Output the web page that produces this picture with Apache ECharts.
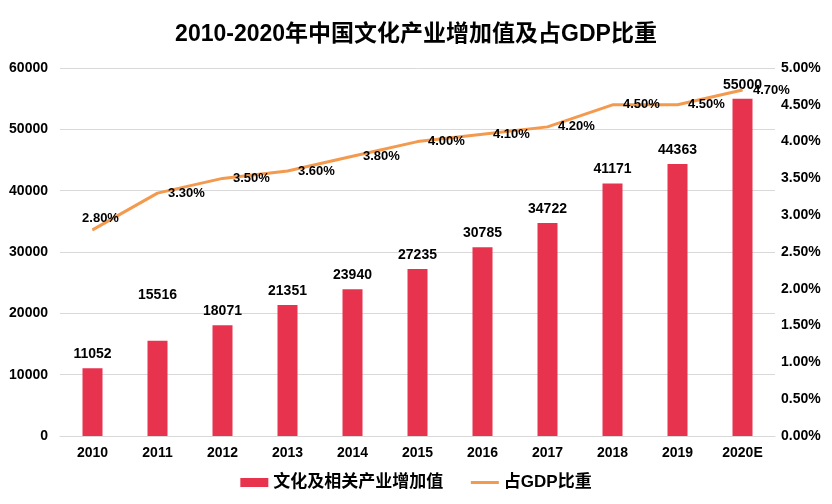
<!DOCTYPE html>
<html><head><meta charset="utf-8">
<script src="https://cdn.jsdelivr.net/npm/echarts@6/dist/echarts.min.js"></script>
<style>html,body{margin:0;padding:0;background:#fff}#c{width:832px;height:504px}</style>
</head><body><div id="c"></div>
<script>
const categories = ['2010','2011','2012','2013','2014','2015','2016','2017','2018','2019','2020E'];
const addedValue = [11052,15516,18071,21351,23940,27235,30785,34722,41171,44363,55000];
const gdpShare = [2.8,3.3,3.5,3.6,3.8,4.0,4.1,4.2,4.5,4.5,4.7];
const titleText = '2010-2020年中国文化产业增加值及占GDP比重';
const seriesNames = ['文化及相关产业增加值','占GDP比重'];

const font = '"Liberation Sans", Arial, "Noto Sans CJK SC", sans-serif';
const chart = echarts.init(document.getElementById('c'));
chart.setOption({
  animation: false,
  textStyle: {fontFamily: font},
  title: {text: titleText, left: 'center', top: 18,
    textStyle: {fontSize: 23, fontWeight: 'bold', color: '#000', fontFamily: font}},
  legend: {bottom: 8, left: 'center', itemGap: 26, itemWidth: 28, itemHeight: 9,
    textStyle: {fontSize: 17, fontWeight: 'bold', color: '#000', fontFamily: font},
    data: [{name: seriesNames[0], icon: 'rect'},
           {name: seriesNames[1], itemStyle: {opacity: 0}, lineStyle: {width: 3, color: '#F39A4E'}}]},
  grid: {left: 60, right: 57, top: 68, bottom: 68, containLabel: false},
  xAxis: {type: 'category', data: categories,
    axisLine: {show: true, lineStyle: {color: '#d9d9d9'}}, axisTick: {show: false},
    axisLabel: {color: '#000', fontSize: 14, fontWeight: 'bold', margin: 10}},
  yAxis: [
    {type: 'value', min: 0, max: 60000, interval: 10000,
     axisLine: {show: false}, axisTick: {show: false},
     splitLine: {lineStyle: {color: '#d9d9d9', width: 1}},
     axisLabel: {color: '#000', fontSize: 14, fontWeight: 'bold', margin: 12,
       formatter: v => String(v)}},
    {type: 'value', min: 0, max: 5, interval: 0.5,
     axisLine: {show: false}, axisTick: {show: false}, splitLine: {show: false},
     axisLabel: {color: '#000', fontSize: 14, fontWeight: 'bold', margin: 6,
       formatter: v => v.toFixed(2) + '%'}}
  ],
  series: [
    {name: seriesNames[0], type: 'bar', barWidth: 20, itemStyle: {color: '#E8334F'},
     data: addedValue.map((v, i) => i === 1 ? {value: v,
        label: {offset: [0, -32]}} : v),
     label: {show: true, position: 'top', distance: 7, color: '#000', fontSize: 14, fontWeight: 'bold'}},
    {name: seriesNames[1], type: 'line', yAxisIndex: 1, symbol: 'circle', symbolSize: 1, showSymbol: true,
     lineStyle: {color: '#F39A4E', width: 3}, itemStyle: {color: '#F39A4E'},
     data: gdpShare.map((v, i) => i === 0 ? {value: v, label: {position: 'top', offset: [8, 6]}} : v),
     label: {show: true, position: 'right', distance: 10, color: '#000', fontSize: 13, fontWeight: 'bold',
       formatter: p => p.value.toFixed(2) + '%'}}
  ]
});
</script></body></html>
